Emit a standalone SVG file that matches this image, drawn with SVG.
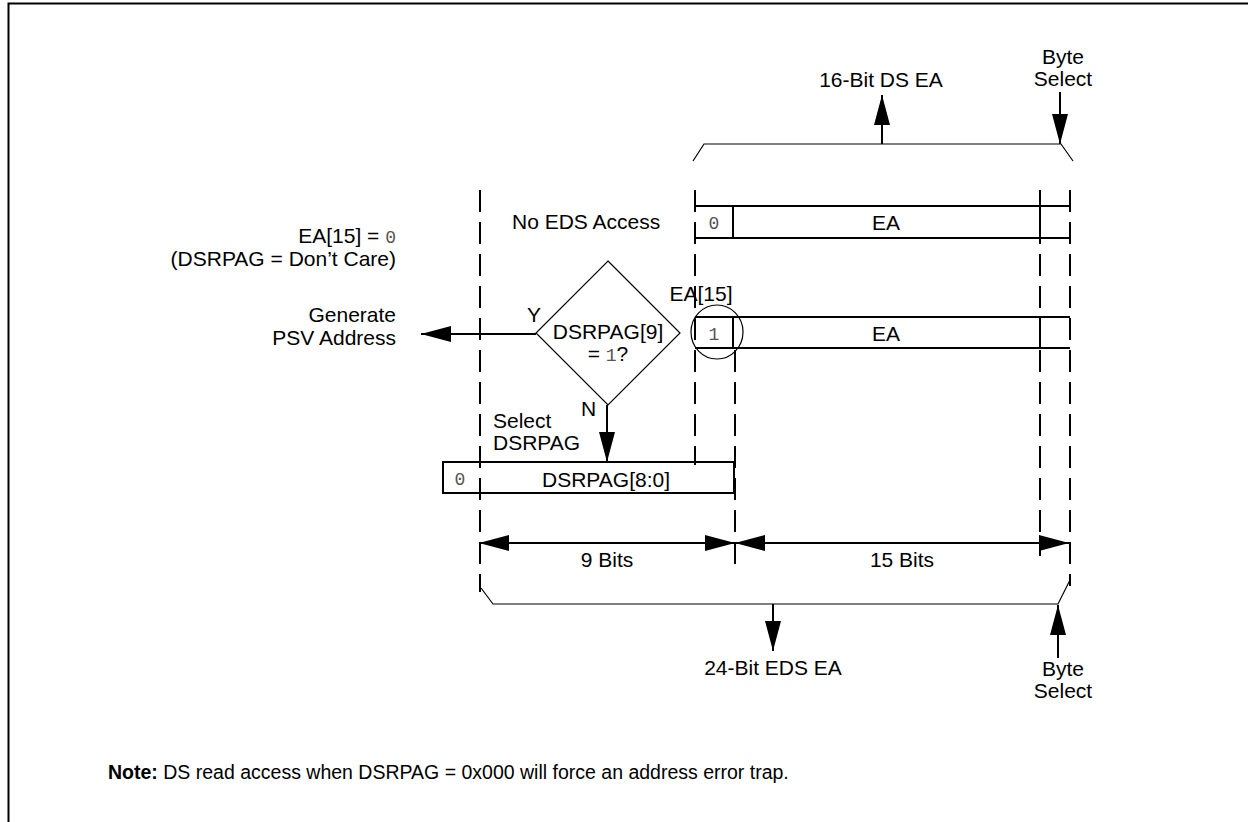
<svg xmlns="http://www.w3.org/2000/svg" width="1248" height="822" viewBox="0 0 1248 822">
<style>
text{font-family:"Liberation Sans",Arial,sans-serif;font-size:21px;fill:#000}
text .m, text.m{font-family:"Liberation Mono","Courier New",monospace;font-size:18px;fill:#555}
.c{text-anchor:middle}
.r{text-anchor:end}
text.note{font-size:19.5px}
.box{fill:none;stroke:#000;stroke-width:2}
.thin{fill:none;stroke:#000;stroke-width:1.2}
.dash{fill:none;stroke:#000;stroke-width:2;stroke-dasharray:22 10}
.ln{fill:none;stroke:#000;stroke-width:2}
</style>
<defs>
<marker id="ah" markerWidth="30" markerHeight="16" refX="30" refY="8" orient="auto" markerUnits="userSpaceOnUse">
<path d="M0,0 L30,8 L0,16 Z" fill="#000"/>
</marker>
</defs>
<rect width="1248" height="822" fill="#fff"/>
<path d="M8.5,822 V3.5 H1248" fill="none" stroke="#000" stroke-width="2"/>

<g id="guides">
<line class="dash" x1="480" y1="190" x2="480" y2="592"/>
<line class="dash" x1="695" y1="190" x2="695" y2="465"/>
<line class="dash" x1="735" y1="350" x2="735" y2="565"/>
<line class="dash" x1="1040" y1="190" x2="1040" y2="556"/>
<line class="dash" x1="1070" y1="190" x2="1070" y2="586"/>
</g>

<g id="top-bracket">
<path class="thin" d="M693,161 L704,144 H1061 L1073,161"/>
<text class="c" x="881" y="87">16-Bit DS EA</text>
<text class="c" x="1063" y="64">Byte</text>
<text class="c" x="1063" y="86">Select</text>
</g>

<g id="row-no-eds">
<path class="box" d="M695,206 H1070 M695,238 H1070 M733,206 V238 M1040,206 V238"/>
<text class="m c" x="714" y="229">0</text>
<text class="c" x="886" y="230">EA</text>
<text x="512" y="229">No EDS Access</text>
</g>

<g id="row-eds">
<path class="box" d="M695,317 H1070 M695,348 H1070 M733,317 V348 M1040,317 V348"/>
<text class="m c" x="714" y="340">1</text>
<text class="c" x="886" y="341">EA</text>
<ellipse class="thin" cx="717" cy="332" rx="26" ry="27"/>
<text class="c" x="701" y="301">EA[15]</text>
</g>

<g id="cond-label">
<text class="r" x="396" y="243">EA[15] = <tspan class="m">0</tspan></text>
<text class="r" x="396" y="266">(DSRPAG = Don’t Care)</text>
</g>

<g id="decision">
<path class="thin" d="M608,261 L680,333 L608,405 L536,333 Z"/>
<text class="c" x="608" y="339">DSRPAG[9]</text>
<text class="c" x="608" y="361">= <tspan class="m">1</tspan>?</text>
</g>

<g id="psv">
<text class="r" x="396" y="322">Generate</text>
<text class="r" x="396" y="345">PSV Address</text>
</g>

<g id="dsrpag-box">
<rect class="box" x="443" y="462" width="291" height="31"/>
<text class="m c" x="460" y="485">0</text>
<text class="c" x="606" y="487">DSRPAG[8:0]</text>
<text x="493" y="428">Select</text>
<text x="493" y="450">DSRPAG</text>
</g>

<g id="bottom-bracket">
<path class="thin" d="M481,588 L493,604 H1058 L1070,580"/>
<text class="c" x="773" y="675">24-Bit EDS EA</text>
<text class="c" x="1063" y="676">Byte</text>
<text class="c" x="1063" y="698">Select</text>
</g>

<g id="connectors">
<line class="ln" x1="882" y1="144" x2="882" y2="95" marker-end="url(#ah)"/>
<line class="ln" x1="1060" y1="92" x2="1060" y2="144" marker-end="url(#ah)"/>
<line class="ln" x1="536" y1="334" x2="421" y2="334" marker-end="url(#ah)"/>
<line class="ln" x1="607" y1="405" x2="607" y2="462" marker-end="url(#ah)"/>
<line class="ln" x1="560" y1="543" x2="479" y2="543" marker-end="url(#ah)"/>
<line class="ln" x1="560" y1="543" x2="735" y2="543" marker-end="url(#ah)"/>
<line class="ln" x1="900" y1="543" x2="735" y2="543" marker-end="url(#ah)"/>
<line class="ln" x1="900" y1="543" x2="1069" y2="543" marker-end="url(#ah)"/>
<line class="ln" x1="773" y1="604" x2="773" y2="651" marker-end="url(#ah)"/>
<line class="ln" x1="1058" y1="658" x2="1058" y2="605" marker-end="url(#ah)"/>
<text x="527" y="322">Y</text>
<text x="581" y="416">N</text>
<text class="c" x="607" y="567">9 Bits</text>
<text class="c" x="902" y="567">15 Bits</text>
</g>

<g id="note">
<text class="note" x="108" y="779"><tspan font-weight="bold">Note:</tspan> DS read access when DSRPAG = 0x000 will force an address error trap.</text>
</g>
</svg>
